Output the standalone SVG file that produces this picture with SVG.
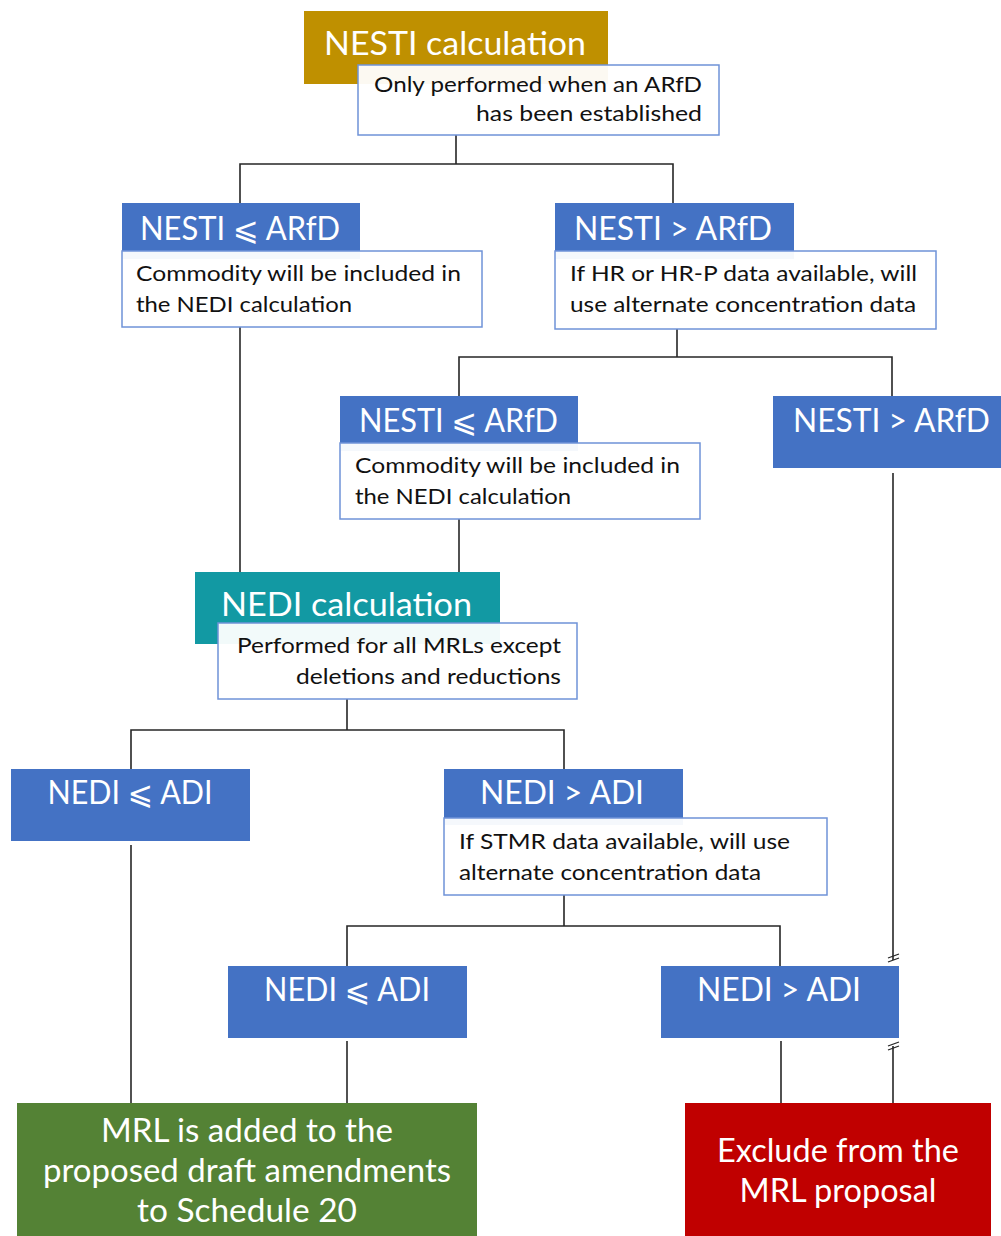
<svg xmlns="http://www.w3.org/2000/svg" width="1001" height="1236" viewBox="0 0 1001 1236">
<style>
  .hdr { fill: #4472C4; }
  .note { fill: #ffffff; fill-opacity: 0.95; stroke: #6F93D8; stroke-width: 1.5; }
  .t-big { font-family: Lato, "Open Sans", "DejaVu Sans", sans-serif; font-size: 32px; fill: #ffffff; }
  .t-sm { font-family: Lato, "Open Sans", "DejaVu Sans", sans-serif; font-size: 21.5px; fill: #111111; }
  .conn { fill: none; stroke: #262626; stroke-width: 1.6; }
  .brk { stroke: #262626; stroke-width: 1.3; }
</style>
<rect width="1001" height="1236" fill="#ffffff"/>

<g id="connectors">
  <path class="conn" d="M456,135 V164 M240,203 V164 H673 V203"/>
  <path class="conn" d="M240,327 V572"/>
  <path class="conn" d="M677,329 V357 M459,396 V357 H892 V396"/>
  <path class="conn" d="M459,519 V572"/>
  <path class="conn" d="M893,473 V960"/>
  <path class="conn" d="M893,1046 V1103"/>
  <line class="brk" x1="888" y1="958" x2="899" y2="954"/>
  <line class="brk" x1="888" y1="962" x2="899" y2="958"/>
  <line class="brk" x1="888" y1="1046" x2="899" y2="1042"/>
  <line class="brk" x1="888" y1="1050" x2="899" y2="1046"/>
  <path class="conn" d="M347,699 V730 M131,769 V730 H564 V769"/>
  <path class="conn" d="M131,845 V1103"/>
  <path class="conn" d="M564,895 V926 M347,966 V926 H780 V966"/>
  <path class="conn" d="M347,1041 V1103"/>
  <path class="conn" d="M781,1041 V1103"/>
</g>

<g id="nesti-calc">
  <rect x="304" y="11" width="304" height="73" fill="#BF9000"/>
  <text class="t-big" x="324" y="55" textLength="262" lengthAdjust="spacingAndGlyphs">NESTI calculation</text>
  <rect class="note" x="358" y="65" width="361" height="70"/>
  <text class="t-sm" x="702" y="92" text-anchor="end" textLength="328" lengthAdjust="spacingAndGlyphs">Only performed when an ARfD</text>
  <text class="t-sm" x="702" y="121" text-anchor="end" textLength="226" lengthAdjust="spacingAndGlyphs">has been established</text>
</g>

<g id="nesti-le-1">
  <rect class="hdr" x="122" y="203" width="238" height="56"/>
  <text class="t-big" x="140" y="240" textLength="200" lengthAdjust="spacingAndGlyphs">NESTI ⩽ ARfD</text>
  <rect class="note" x="122" y="251" width="360" height="76"/>
  <text class="t-sm" x="136" y="281" textLength="325" lengthAdjust="spacingAndGlyphs">Commodity will be included in</text>
  <text class="t-sm" x="136" y="312" textLength="216" lengthAdjust="spacingAndGlyphs">the NEDI calculation</text>
</g>

<g id="nesti-gt-1">
  <rect class="hdr" x="555" y="203" width="239" height="56"/>
  <text class="t-big" x="574" y="240" textLength="198" lengthAdjust="spacingAndGlyphs">NESTI &gt; ARfD</text>
  <rect class="note" x="555" y="251" width="381" height="78"/>
  <text class="t-sm" x="570" y="281" textLength="347" lengthAdjust="spacingAndGlyphs">If HR or HR-P data available, will</text>
  <text class="t-sm" x="570" y="312" textLength="346" lengthAdjust="spacingAndGlyphs">use alternate concentration data</text>
</g>

<g id="nesti-le-2">
  <rect class="hdr" x="340" y="396" width="238" height="55"/>
  <text class="t-big" x="359" y="432" textLength="199" lengthAdjust="spacingAndGlyphs">NESTI ⩽ ARfD</text>
  <rect class="note" x="340" y="443" width="360" height="76"/>
  <text class="t-sm" x="355" y="473" textLength="325" lengthAdjust="spacingAndGlyphs">Commodity will be included in</text>
  <text class="t-sm" x="355" y="504" textLength="216" lengthAdjust="spacingAndGlyphs">the NEDI calculation</text>
</g>

<g id="nesti-gt-2">
  <rect class="hdr" x="773" y="396" width="228" height="72"/>
  <text class="t-big" x="793" y="432" textLength="197" lengthAdjust="spacingAndGlyphs">NESTI &gt; ARfD</text>
</g>

<g id="nedi-calc">
  <rect x="195" y="572" width="305" height="72" fill="#1299A3"/>
  <text class="t-big" x="221" y="616" textLength="251" lengthAdjust="spacingAndGlyphs">NEDI calculation</text>
  <rect class="note" x="218" y="623" width="359" height="76"/>
  <text class="t-sm" x="561" y="653" text-anchor="end" textLength="324" lengthAdjust="spacingAndGlyphs">Performed for all MRLs except</text>
  <text class="t-sm" x="561" y="684" text-anchor="end" textLength="265" lengthAdjust="spacingAndGlyphs">deletions and reductions</text>
</g>

<g id="nedi-le-1">
  <rect class="hdr" x="11" y="769" width="239" height="72"/>
  <text class="t-big" x="130" y="804" text-anchor="middle" textLength="165" lengthAdjust="spacingAndGlyphs">NEDI ⩽ ADI</text>
</g>

<g id="nedi-gt-1">
  <rect class="hdr" x="444" y="769" width="239" height="56"/>
  <text class="t-big" x="480" y="804" textLength="164" lengthAdjust="spacingAndGlyphs">NEDI &gt; ADI</text>
  <rect class="note" x="444" y="818" width="383" height="77"/>
  <text class="t-sm" x="459" y="849" textLength="331" lengthAdjust="spacingAndGlyphs">If STMR data available, will use</text>
  <text class="t-sm" x="459" y="880" textLength="302" lengthAdjust="spacingAndGlyphs">alternate concentration data</text>
</g>

<g id="nedi-le-2">
  <rect class="hdr" x="228" y="966" width="239" height="72"/>
  <text class="t-big" x="347" y="1001" text-anchor="middle" textLength="166" lengthAdjust="spacingAndGlyphs">NEDI ⩽ ADI</text>
</g>

<g id="nedi-gt-2">
  <rect class="hdr" x="661" y="966" width="238" height="72"/>
  <text class="t-big" x="779" y="1001" text-anchor="middle" textLength="164" lengthAdjust="spacingAndGlyphs">NEDI &gt; ADI</text>
</g>

<g id="mrl-added">
  <rect x="17" y="1103" width="460" height="133" fill="#548235"/>
  <text class="t-big" x="247" y="1142" text-anchor="middle" textLength="292" lengthAdjust="spacingAndGlyphs">MRL is added to the</text>
  <text class="t-big" x="247" y="1182" text-anchor="middle" textLength="408" lengthAdjust="spacingAndGlyphs">proposed draft amendments</text>
  <text class="t-big" x="247" y="1222" text-anchor="middle" textLength="220" lengthAdjust="spacingAndGlyphs">to Schedule 20</text>
</g>

<g id="exclude">
  <rect x="685" y="1103" width="306" height="133" fill="#C00000"/>
  <text class="t-big" x="838" y="1162" text-anchor="middle" textLength="242" lengthAdjust="spacingAndGlyphs">Exclude from the</text>
  <text class="t-big" x="838" y="1202" text-anchor="middle" textLength="197" lengthAdjust="spacingAndGlyphs">MRL proposal</text>
</g>
</svg>
